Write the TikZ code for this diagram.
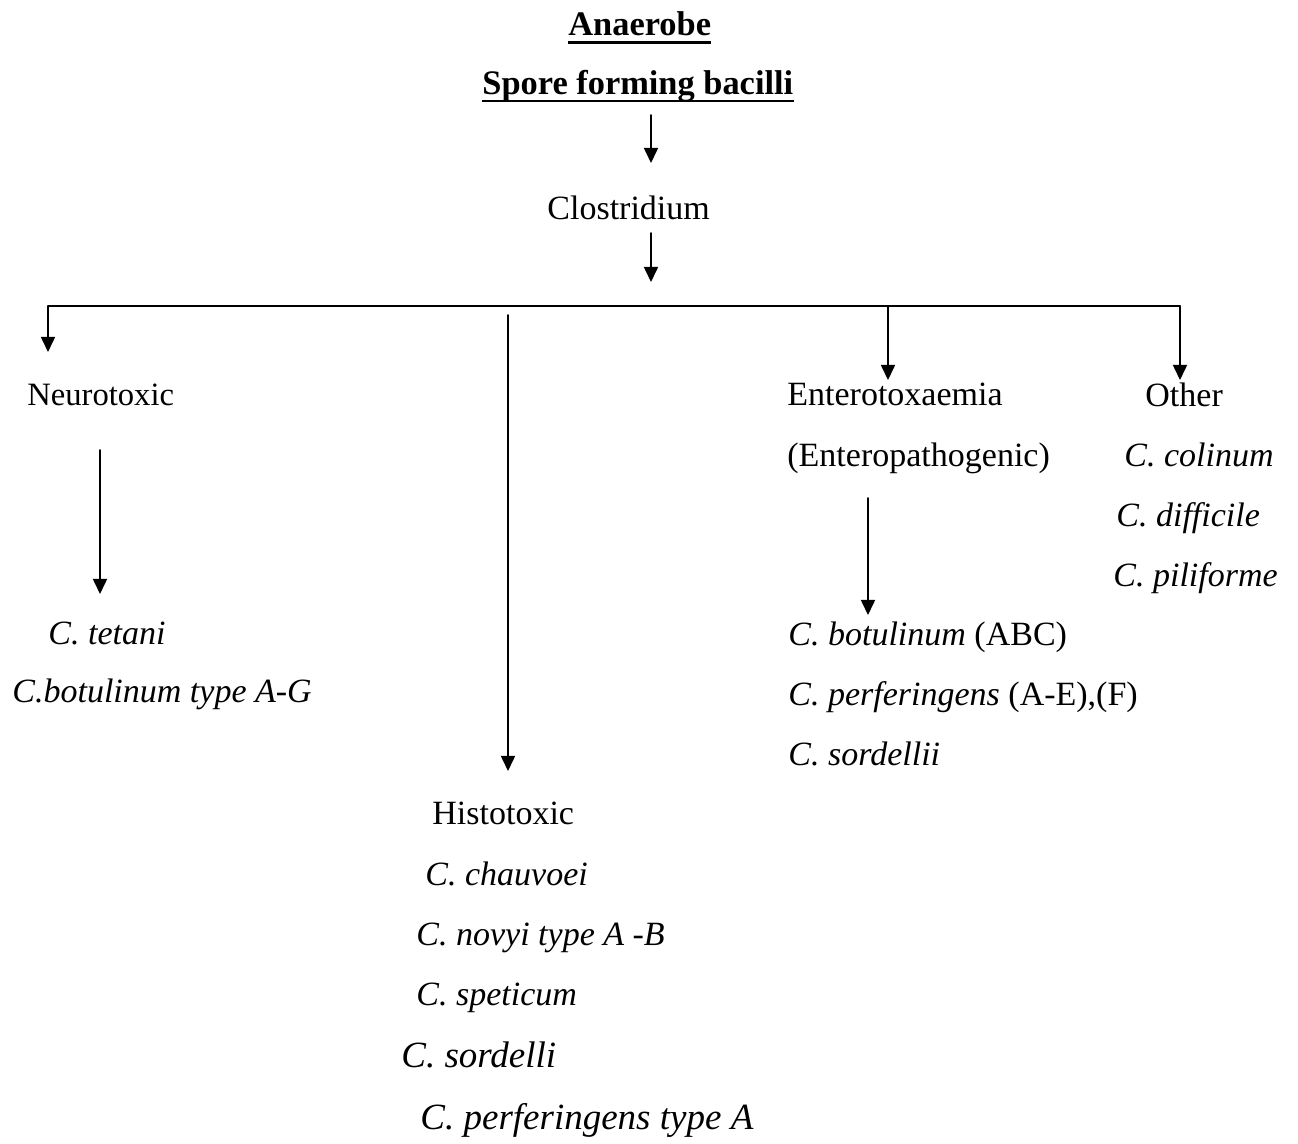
\documentclass[tikz,border=0pt]{standalone}
\usepackage{fontspec}
\setmainfont{Liberation Serif}
\usetikzlibrary{arrows.meta}
\begin{document}
\begin{tikzpicture}[line join=round,line cap=round,x=0.5pt,y=-0.5pt,
	txt/.style={anchor=base west,inner sep=0pt,font=\fontsize{17}{20}\selectfont},
	sp/.style={txt,font=\fontsize{17}{20}\selectfont\itshape},
	big/.style={txt,font=\fontsize{18.5}{22}\selectfont\itshape},
	ttl/.style={txt,font=\fontsize{17.2}{20}\selectfont\bfseries},
	arr/.style={line width=.8pt,-{Triangle[length=7.5pt,width=7pt]}}]
	\useasboundingbox (0,0) rectangle (1298,1144);
	% titles
	\node[ttl] (ana) at (568,36) {Anaerobe};
	\node[ttl] (spore) at (482,95) {Spore forming bacilli};
	\draw[line width=1.4pt,line cap=butt] ([yshift=-3.2pt]ana.base west) -- ([yshift=-3.2pt]ana.base east);
	\draw[line width=1.4pt,line cap=butt] ([yshift=-3pt]spore.base west) -- ([yshift=-3pt]spore.base east);
	\node[txt] (clos) at (547,220) {Clostridium};
	% groups
	\node[txt,font=\fontsize{16.3}{20}\selectfont] (neuro) at (27,406) {Neurotoxic};
	\node[sp] (tet) at (48,645) {C. tetani};
	\node[sp] (botA) at (12,703) {C.botulinum type A-G};
	\node[txt] (histo) at (432,825) {Histotoxic};
	\node[sp] (chau) at (425,886) {C. chauvoei};
	\node[sp] (novyi) at (416,946) {C. novyi type A -B};
	\node[sp] (spet) at (416,1006) {C. speticum};
	\node[big] (sord) at (401,1067) {C. sordelli};
	\node[big] (perfA) at (420,1130) {C. perferingens type A};
	\node[txt] (entero) at (787,406) {Enterotoxaemia};
	\node[txt] (ep) at (787,467) {(Enteropathogenic)};
	\node[txt] (botABC) at (788,646) {\textit{C. botulinum} (ABC)};
	\node[txt] (perfAE) at (788,706) {\textit{C. perferingens} (A-E),(F)};
	\node[sp] (sordii) at (788,766) {C. sordellii};
	\node[txt] (other) at (1145,407) {Other};
	\node[sp] (col) at (1124,467) {C. colinum};
	\node[sp] (diff) at (1116,527) {C. difficile};
	\node[sp] (pili) at (1113,587) {C. piliforme};
	% connectors
	\coordinate (t1) at (651,115); \coordinate (t2) at (651,163);
	\coordinate (c1) at (651,233); \coordinate (c2) at (651,282);
	\coordinate (hl) at (48,306); \coordinate (hr) at (1180,306);
	\coordinate (hn) at (48,352);
	\coordinate (h1) at (508,315); \coordinate (h2) at (508,771);
	\coordinate (e1) at (888,306); \coordinate (e2) at (888,380);
	\coordinate (o2) at (1180,380);
	\coordinate (n1) at (100,450); \coordinate (n2) at (100,594);
	\coordinate (p1) at (868,498); \coordinate (p2) at (868,615);
	\draw[arr] (t1) -- (t2);
	\draw[arr] (c1) -- (c2);
	\draw[line width=.8pt] (hl) -- (hr);
	\draw[arr] (hl) -- (hn);
	\draw[arr] (h1) -- (h2);
	\draw[arr] (e1) -- (e2);
	\draw[arr] (hr) -- (o2);
	\draw[arr] (n1) -- (n2);
	\draw[arr] (p1) -- (p2);
\end{tikzpicture}
\end{document}
